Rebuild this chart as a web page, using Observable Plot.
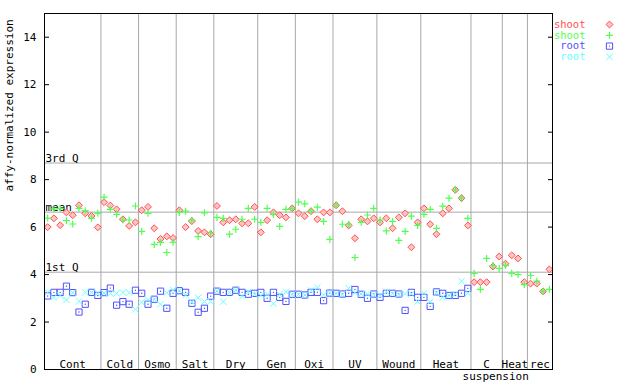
<!DOCTYPE html>
<html><head><meta charset="utf-8">
<script src="https://cdn.jsdelivr.net/npm/d3@7"></script>
<script src="https://cdn.jsdelivr.net/npm/@observablehq/plot@0.6"></script>
<style>body{margin:0;background:#fff} svg{display:block}</style>
</head><body><div id="chart"></div><script>
const groups = ["Cont","Cold","Osmo","Salt","Dry","Gen","Oxi","UV","Wound","Heat","C","Heat","rec"];
const groupSizes = [9,6,6,6,7,6,6,7,7,8,5,4,4];
const subLabel = "suspension";

const shootRep1 = [6.0,6.37,6.08,6.62,6.5,6.92,6.58,6.47,5.99, 7.05,6.91,6.75,6.33,6.05,6.2,
 6.71,6.85,5.95,5.5,5.61,5.54, 6.71,6.0,6.25,5.84,5.78,5.7, 6.89,6.2,6.29,6.33,6.16,6.16,6.85,
 5.78,6.29,6.62,6.5,6.41,6.79, 6.58,6.46,6.67,6.33,6.62,6.62, 6.92,6.67,6.07,5.53,6.33,6.24,6.37,
 6.2,6.37,5.95,6.41,6.58,5.15,6.2, 6.79,6.12,5.7,6.58,6.79,7.57,7.22,6.07,
 3.68,3.68,3.68,4.34,4.76, 4.46,4.81,4.68,3.68, 3.62,3.62,3.29,4.22];
const shootRep2 = [6.38,6.77,6.79,6.27,6.13,6.79,6.69,6.37,6.58, 7.26,6.75,6.54,6.3,6.3,6.89,
 5.82,6.58,5.27,5.36,4.93,5.36, 6.62,6.67,6.29,5.6,6.6,5.74, 6.41,6.37,5.7,5.91,6.33,6.79,6.33,
 6.2,6.79,6.54,6.03,6.75,6.79, 7.05,6.98,6.67,6.84,6.24,5.48, 6.93,6.12,6.12,4.72,6.2,6.51,6.79,
 6.3,5.84,6.24,5.44,5.82,6.46,6.07, 6.54,6.75,5.95,6.88,7.22,7.57,7.22,6.37,
 4.05,3.38,4.68,4.38,4.26, 4.38,4.05,4.0,3.58, 3.96,3.72,3.29,3.38];
const rootRep1 = [3.1,3.25,3.25,3.51,3.24,2.42,2.75,3.25,3.12, 3.24,3.43,2.71,2.86,2.75,3.34,
 3.21,2.75,2.96,3.3,2.58,3.21, 3.32,3.25,2.79,2.41,2.58,3.09, 3.3,3.25,3.25,3.34,3.25,3.17,3.21,
 3.25,3.0,3.25,3.04,2.87,3.17, 3.17,3.14,3.25,3.25,2.9,3.22, 3.21,3.18,3.21,3.37,3.17,3.0,3.18,
 3.04,3.21,3.21,3.18,2.49,3.25,3.04, 3.04,2.66,3.27,3.21,3.12,3.12,3.21,3.42];
const rootRep2 = [3.25,3.04,3.12,2.93,3.24,2.87,3.25,3.25,3.2, 3.22,3.2,3.21,3.25,3.24,2.53,
 2.83,2.94,2.95,2.75,3.24,3.35, 3.33,3.14,2.85,3.02,2.86,2.86, 3.3,2.86,3.24,3.34,3.08,3.27,3.18,
 3.12,3.16,2.78,3.16,3.27,3.16, 3.16,3.14,3.33,3.45,3.14,3.24, 3.2,3.16,3.42,3.24,3.18,3.18,3.16,
 3.12,3.28,3.2,3.16,3.2,3.18,2.86, 3.21,2.85,3.24,3.04,3.12,3.18,3.72,3.21];

const refNames = ["3rd Q","mean","1st Q"];
const refValues = [8.7,6.63,4.1];
const yTicks = [0,2,4,6,8,10,12,14];
const legendNames = ["shoot","shoot","root","root"];
const colors = ["#ff5050","#50ff50","#5050ff","#66ffff"];

const centers = [], bounds = [];
let s = 0;
groupSizes.forEach((n,i) => { centers.push(s + (n+1)/2); s += n; if (i < groupSizes.length-1) bounds.push(s + 0.5); });
const total = s;
const groupLabels = groups.map((g,i) => ({x: centers[i], text: g}));
const toRows = arr => arr.map((v,i) => ({x: i+1, y: v}));

const seriesArrs = [shootRep1, shootRep2, rootRep1, rootRep2];
const dotStyle = [
  {symbol:"diamond2", stroke:colors[0], fill:"#ffc4c4", r:3.1, strokeWidth:1},
  {symbol:"plus", stroke:colors[1], r:2.4, strokeWidth:1.2},
  {symbol:"square", stroke:colors[2], fill:"none", r:3.5, strokeWidth:1},
  {symbol:"times", stroke:colors[3], r:3.0, strokeWidth:1}
];

const dotMarks = [];
seriesArrs.forEach((arr,k) => {
  dotMarks.push(Plot.dot(toRows(arr), {x:"x", y:"y", ...dotStyle[k]}));
  if (k === 2) dotMarks.push(Plot.dot(toRows(arr), {x:"x", y:"y", r:0.7, fill:colors[2]}));
});

const legendMarks = [];
legendNames.forEach((name,k) => {
  legendMarks.push(Plot.text([name], {text: d => d, frameAnchor:"top-right", textAnchor:"end", lineAnchor:"middle", dx:33, dy:11 + k*10.8, fill:colors[k], fontSize:10.5}));
  legendMarks.push(Plot.dot([name], {frameAnchor:"top-right", dx:57, dy:11 + k*10.8, ...dotStyle[k]}));
  if (k === 2) legendMarks.push(Plot.dot([name], {frameAnchor:"top-right", dx:57, dy:11 + k*10.8, r:0.7, fill:colors[2]}));
});

const chart = Plot.plot({
  width: 640, height: 384,
  marginLeft: 44, marginRight: 88, marginTop: 13, marginBottom: 15,
  style: {fontFamily: "'DejaVu Sans Mono', monospace", fontSize: "11px", background: "#fff", color: "#000"},
  x: {domain: [0.5, total + 0.5], axis: null},
  y: {domain: [0, 15], axis: null},
  marks: [
    Plot.ruleX(bounds, {stroke: "#a8a8a8"}),
    Plot.ruleY(refValues, {stroke: "#a8a8a8"}),
    Plot.text(refNames, {y: (d,i) => refValues[i], text: d => d, frameAnchor: "left", textAnchor: "start", lineAnchor: "bottom", dx: 1, dy: -1, fontSize: 11}),
    Plot.text(groupLabels, {x: "x", text: "text", frameAnchor: "bottom", lineAnchor: "bottom", dy: -2, fontSize: 11}),
    Plot.text([subLabel], {x: centers[10], text: d => d, frameAnchor: "bottom", lineAnchor: "top", dx: 9, dy: 3, fontSize: 11}),
    Plot.axisY(yTicks, {anchor: "left", tickSize: -5, tickPadding: 13, fontSize: 11, label: null}),
    Plot.axisY(yTicks, {anchor: "right", tickSize: -5, tickFormat: () => "", label: null}),
    Plot.text(["affy-normalized expression"], {text: d => d, frameAnchor: "left", rotate: -90, dx: -35, fontSize: 11}),
    ...dotMarks,
    Plot.frame({stroke: "#000"}),
    ...legendMarks
  ]
});
document.getElementById("chart").appendChild(chart);
</script></body></html>
